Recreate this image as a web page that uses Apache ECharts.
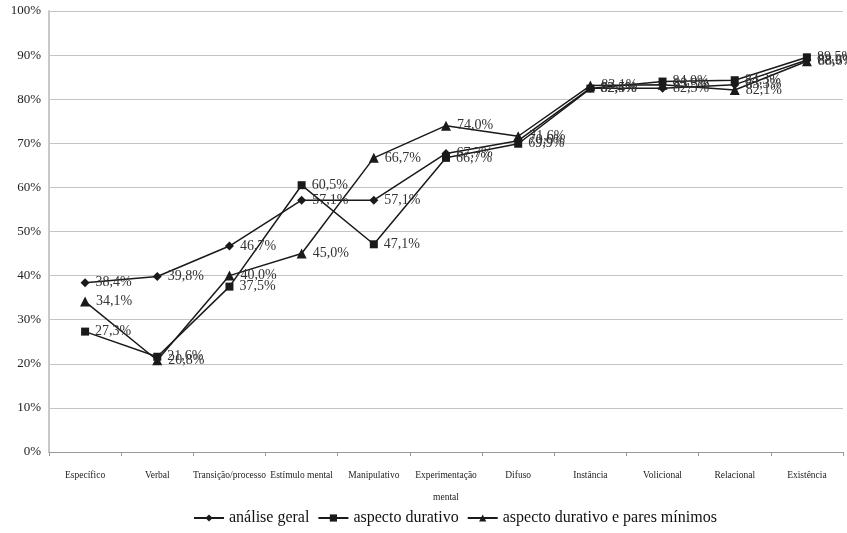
<!DOCTYPE html>
<html>
<head>
<meta charset="utf-8">
<script src="https://cdn.jsdelivr.net/npm/echarts@6/dist/echarts.min.js"></script>
<style>
  html, body { margin: 0; padding: 0; background: #ffffff; }
  #chart { width: 847px; height: 533px; }
</style>
</head>
<body>
<div id="chart"></div>
<script>
// Categories along the horizontal axis
const categories = [
  'Específico', 'Verbal', 'Transição/processo', 'Estímulo mental', 'Manipulativo',
  'Experimentação\nmental', 'Difuso', 'Instância', 'Volicional', 'Relacional', 'Existência'
];

// Percentages per series
const analiseGeral = [38.4, 39.8, 46.7, 57.1, 57.1, 67.7, 70.6, 82.5, 82.5, 83.3, 88.9];
const aspectoDurativo = [27.3, 21.6, 37.5, 60.5, 47.1, 66.7, 69.9, 82.4, 84.0, 84.3, 89.5];
const aspectoDurativoPares = [34.1, 20.8, 40.0, 45.0, 66.7, 74.0, 71.6, 83.1, 83.3, 82.1, 88.6];

const seriesNames = ['análise geral', 'aspecto durativo', 'aspecto durativo e pares mínimos'];
const symbols = ['diamond', 'rect', 'triangle'];
const symbolSizes = [9, 8, 10];

const serif = '"Liberation Serif", "DejaVu Serif", serif';

function fmt(v) {
  return v.toFixed(1).replace('.', ',') + '%';
}

const seriesData = [analiseGeral, aspectoDurativo, aspectoDurativoPares];

const chart = echarts.init(document.getElementById('chart'), null, { renderer: 'canvas' });

chart.setOption({
  backgroundColor: '#ffffff',
  animation: false,
  grid: { left: 49, right: 4, top: 11, bottom: 81, containLabel: false },
  legend: {
    bottom: 2,
    left: 188,
    itemWidth: 30,
    itemHeight: 9,
    itemGap: 8,
    data: seriesNames,
    textStyle: { fontFamily: serif, fontSize: 16, color: '#111' }
  },
  xAxis: {
    type: 'category',
    data: categories,
    boundaryGap: true,
    axisLine: { lineStyle: { color: '#9a9a9a', width: 1 } },
    axisTick: { show: true, alignWithLabel: false, length: 4, lineStyle: { color: '#9a9a9a' } },
    axisLabel: {
      interval: 0,
      fontFamily: serif,
      fontSize: 9.5,
      color: '#222',
      margin: 12,
      lineHeight: 22
    },
    splitLine: { show: false }
  },
  yAxis: {
    type: 'value',
    min: 0,
    max: 100,
    interval: 10,
    axisLine: { show: true, lineStyle: { color: '#c8c8c8', width: 2 } },
    axisTick: { show: false },
    axisLabel: {
      fontFamily: serif,
      fontSize: 13,
      color: '#222',
      margin: 8,
      formatter: v => v + '%'
    },
    splitLine: { lineStyle: { color: '#c4c4c4', width: 1 } }
  },
  series: seriesData.map((d, i) => ({
    name: seriesNames[i],
    type: 'line',
    data: d,
    symbol: symbols[i],
    symbolSize: symbolSizes[i],
    showAllSymbol: true,
    lineStyle: { color: '#1a1a1a', width: 1.5 },
    itemStyle: { color: '#1a1a1a' },
    label: {
      show: true,
      position: 'right',
      distance: 6,
      fontFamily: serif,
      fontSize: 14,
      color: '#333',
      formatter: p => fmt(p.value)
    },
    emphasis: { disabled: true }
  }))
});
</script>
</body>
</html>
